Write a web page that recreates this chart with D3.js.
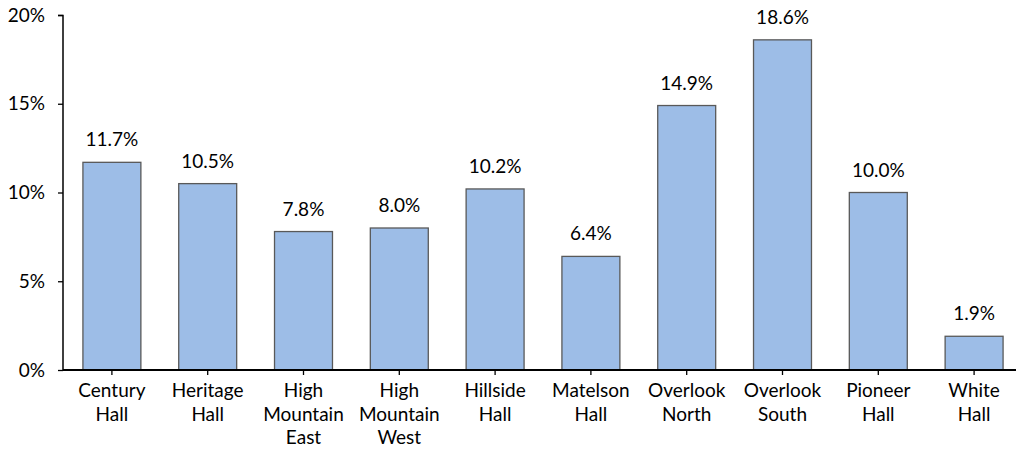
<!DOCTYPE html>
<html><head><meta charset="utf-8">
<script src="https://cdn.jsdelivr.net/npm/d3@7"></script>
<style>body{margin:0;background:#fff}svg{display:block}text{font-family:Lato,"Open Sans",sans-serif;fill:#000}</style>
</head><body><svg id="c" width="1016" height="450"></svg>
<script>
const categories = ["Century Hall","Heritage Hall","High Mountain East","High Mountain West","Hillside Hall","Matelson Hall","Overlook North","Overlook South","Pioneer Hall","White Hall"];
const labelLines = [["Century","Hall"],["Heritage","Hall"],["High","Mountain","East"],["High","Mountain","West"],["Hillside","Hall"],["Matelson","Hall"],["Overlook","North"],["Overlook","South"],["Pioneer","Hall"],["White","Hall"]];
const values = [11.7,10.5,7.8,8.0,10.2,6.4,14.9,18.6,10.0,1.9];
const yTicks = [0,5,10,15,20];

const FS = "19px";
const svg = d3.select("#c");
const x = d3.scaleBand().domain(categories).range([64,1022]).paddingInner(0.395).paddingOuter(0.1975);
const y = d3.scaleLinear().domain([0,20]).range([370,15]);

// bars
svg.append("g").selectAll("rect").data(values).join("rect")
  .attr("x",(d,i)=>x(categories[i])).attr("width",x.bandwidth())
  .attr("y",d=>y(d)).attr("height",d=>y(0)-y(d))
  .attr("fill","#9dbde7").attr("stroke","#595959").attr("stroke-width",1.3);

// value labels
svg.append("g").selectAll("text").data(values).join("text")
  .attr("x",(d,i)=>x(categories[i])+x.bandwidth()/2).attr("y",d=>y(d)-16)
  .attr("text-anchor","middle").style("font-size",FS)
  .text(d=>d.toFixed(1)+"%");

// y axis
const ya = svg.append("g").attr("transform","translate(63,0)")
  .call(d3.axisLeft(y).tickValues(yTicks).tickFormat(d=>d+"%").tickSize(5).tickPadding(13));
ya.select(".domain").attr("stroke","#000").attr("stroke-width",1.5).attr("d","M-5,15.5H0V370");
ya.selectAll(".tick line").attr("stroke","#000").attr("stroke-width",1.3);
ya.selectAll(".tick text").style("font-size",FS).style("font-family","Lato,sans-serif").attr("fill","#000");

// x axis
const xa = svg.append("g").attr("transform","translate(0,370)")
  .call(d3.axisBottom(x).tickSize(5).tickFormat(""));
xa.select(".domain").attr("stroke","#000").attr("stroke-width",2).attr("d","M63,0H1016");
xa.selectAll(".tick line").attr("stroke","#000").attr("stroke-width",1.3);
const xl = svg.append("g");
categories.forEach((c,i)=>{
  const t = xl.append("text").attr("x",x(c)+x.bandwidth()/2).attr("y",397)
    .attr("text-anchor","middle").style("font-size",FS);
  labelLines[i].forEach((l,j)=>t.append("tspan").attr("x",x(c)+x.bandwidth()/2).attr("y",397+j*23.5).text(l));
});
</script></body></html>
